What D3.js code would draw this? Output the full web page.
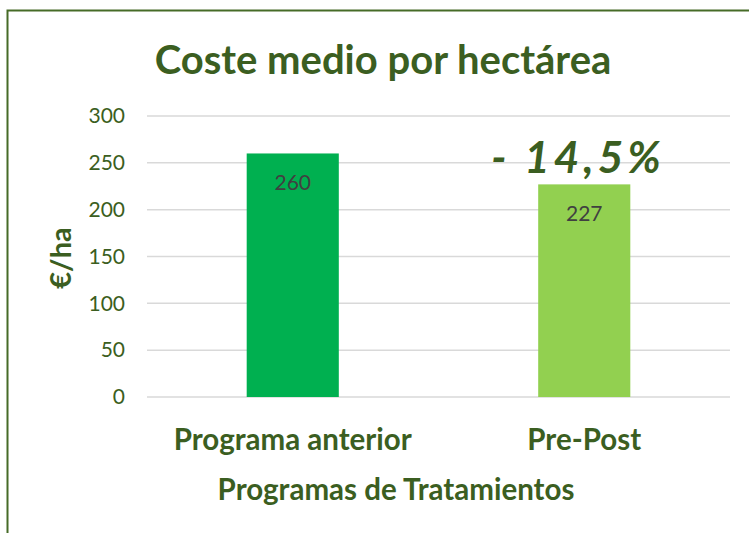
<!DOCTYPE html>
<html>
<head>
<meta charset="utf-8">
<script src="https://cdn.jsdelivr.net/npm/d3@7"></script>
<style>
  html, body { margin: 0; padding: 0; background: #fff; }
  svg { display: block; font-family: Lato, "Noto Sans", sans-serif; }
</style>
</head>
<body>
<div id="chart"></div>
<script>
const categories = ['Programa anterior', 'Pre-Post']
const values = [260, 227]
const barColors = ['#00b050', '#92d050']
const yTicks = [0, 50, 100, 150, 200, 250, 300]
const title = 'Coste medio por hectárea'
const yTitle = '€/ha'
const xTitle = 'Programas de Tratamientos'
const note = '- 14,5%'

const width = 749
const height = 533
const green = '#3b5e21'

const svg = d3.select('#chart').append('svg')
  .attr('width', width)
  .attr('height', height)

// outer frame, runs off the right and bottom edge
svg.append('rect')
  .attr('x', 7.5)
  .attr('y', 10.5)
  .attr('width', 800)
  .attr('height', 600)
  .attr('fill', 'white')
  .attr('stroke', '#466b27')
  .attr('stroke-width', 2)

const xScale = d3.scaleBand().domain(categories).range([147, 730])
  .paddingInner(0.684).paddingOuter(0.342)
const yScale = d3.scaleLinear().domain([0, 300]).range([397, 116])

// grid
svg.append('g')
  .selectAll('line')
  .data(yTicks)
  .join('line')
  .attr('x1', 147)
  .attr('x2', 730)
  .attr('y1', d => yScale(d))
  .attr('y2', d => yScale(d))
  .attr('stroke', '#d9d9d9')
  .attr('stroke-width', 1.5)

// y axis labels
const yAxis = svg.append('g')
  .attr('transform', 'translate(125,0)')
  .call(d3.axisLeft(yScale).tickValues(yTicks).tickSize(0).tickPadding(0))
yAxis.select('.domain').remove()
yAxis.selectAll('text')
  .attr('font-family', 'Lato, sans-serif')
  .attr('font-size', 21)
  .attr('fill', green)

// bars
svg.append('g')
  .selectAll('rect')
  .data(values)
  .join('rect')
  .attr('x', (d, i) => xScale(categories[i]))
  .attr('y', d => yScale(d))
  .attr('width', xScale.bandwidth())
  .attr('height', d => yScale(0) - yScale(d))
  .attr('fill', (d, i) => barColors[i])

// value labels inside bars
svg.append('g')
  .selectAll('text')
  .data(values)
  .join('text')
  .attr('x', (d, i) => xScale(categories[i]) + xScale.bandwidth() / 2)
  .attr('y', d => yScale(d) + 37)
  .attr('text-anchor', 'middle')
  .attr('font-size', 21)
  .attr('fill', '#404040')
  .text(d => d)

// category labels
const xAxis = svg.append('g')
  .attr('transform', 'translate(0,397)')
  .call(d3.axisBottom(xScale).tickSize(0).tickPadding(0))
xAxis.select('.domain').remove()
xAxis.selectAll('text')
  .attr('dy', 0)
  .attr('y', 53)
  .attr('font-family', 'Lato, sans-serif')
  .attr('font-size', 29.5)
  .attr('font-weight', 'bold')
  .attr('fill', green)

// titles
svg.append('text')
  .attr('x', 383)
  .attr('y', 74)
  .attr('text-anchor', 'middle')
  .attr('font-size', 40)
  .attr('font-weight', 'bold')
  .attr('fill', green)
  .text(title)

svg.append('text')
  .attr('transform', 'translate(71,258) rotate(-90)')
  .attr('text-anchor', 'middle')
  .attr('font-size', 29)
  .attr('font-weight', 'bold')
  .attr('fill', green)
  .text(yTitle)

svg.append('text')
  .attr('x', 396)
  .attr('y', 500)
  .attr('text-anchor', 'middle')
  .attr('font-size', 29.5)
  .attr('font-weight', 'bold')
  .attr('fill', green)
  .text(xTitle)

// change annotation
svg.append('text')
  .attr('x', 578)
  .attr('y', 173)
  .attr('text-anchor', 'middle')
  .attr('font-size', 44)
  .attr('font-style', 'italic')
  .attr('font-weight', 'bold')
  .attr('letter-spacing', 4)
  .attr('fill', green)
  .text(note)
</script>
</body>
</html>
